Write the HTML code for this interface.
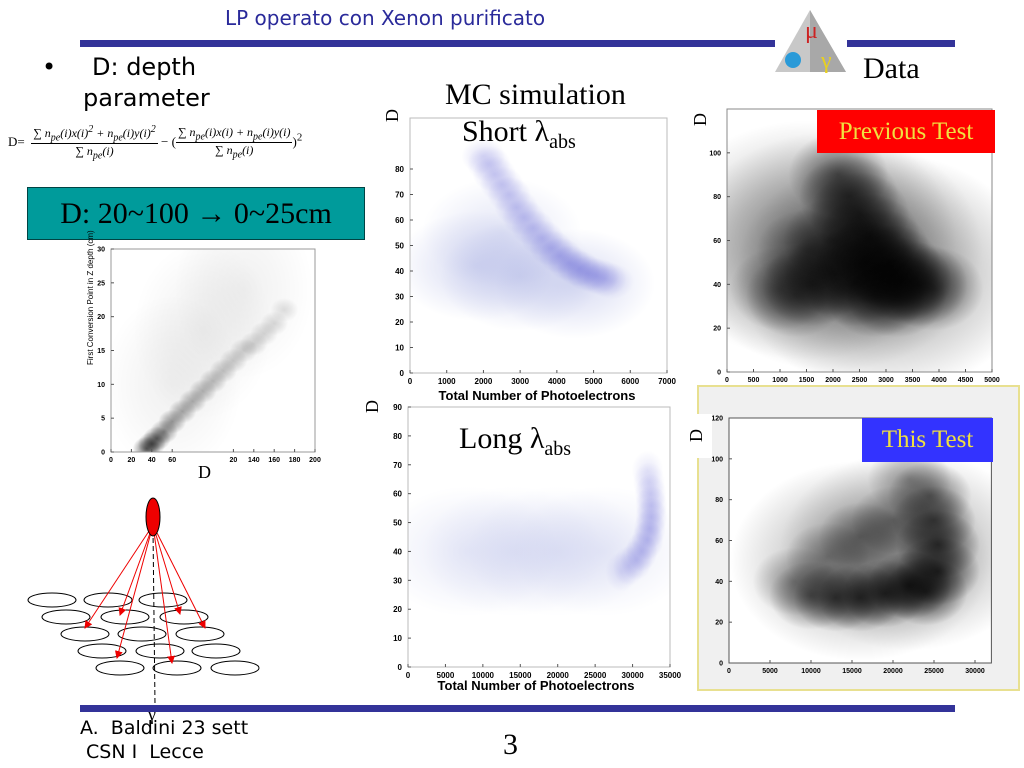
<!DOCTYPE html>
<html><head><meta charset="utf-8">
<style>
body{margin:0;width:1024px;height:768px;overflow:hidden;background:#fff;font-family:"Liberation Sans",sans-serif;position:relative}
.abs{position:absolute}
.serif{font-family:"Liberation Serif",serif}
.comic{font-family:"DejaVu Sans","Liberation Sans",sans-serif}
.frac{display:inline-block;vertical-align:middle;text-align:center;font-family:"Liberation Serif",serif;font-style:italic;font-size:12px}
.frac span{display:block;padding:0 2px}
.frac .num{border-bottom:1px solid #000}
</style></head><body>
<div class="abs comic" style="left:225px;top:6px;font-size:20px;color:#2a2a9a;">LP operato con Xenon purificato</div>
<div class="abs" style="left:80px;top:40px;width:695px;height:7px;background:#333399"></div>
<div class="abs" style="left:847px;top:40px;width:108px;height:7px;background:#333399"></div>
<svg class="abs" style="left:773px;top:8px" width="75" height="66">
<polygon points="37,2 2,64 73,64" fill="#c8c8c8"/><polygon points="37,2 37,64 73,64" fill="#a8a8a8"/>
<text x="32" y="30" font-size="24" fill="#cc2222" font-family="Liberation Serif">μ</text>
<circle cx="20" cy="52" r="8" fill="#2a9ad8"/><text x="48" y="60" font-size="24" fill="#e8d020" font-family="Liberation Serif">γ</text></svg>
<div class="abs serif" style="left:863px;top:52px;font-size:30px">Data</div>
<div class="abs comic" style="left:42px;top:52px;font-size:24px;line-height:31px"><span style="position:absolute;left:0">•</span><span style="position:absolute;left:50px;white-space:nowrap">D: depth</span><br><span style="position:absolute;left:41px;top:31px;white-space:nowrap">parameter</span></div>
<div class="abs" style="left:8px;top:124px;white-space:nowrap;font-family:'Liberation Serif',serif;font-size:13px">D= &nbsp;<span class="frac"><span class="num">∑ n<sub>pe</sub>(i)x(i)<sup>2</sup> + n<sub>pe</sub>(i)y(i)<sup>2</sup></span><span>∑ n<sub>pe</sub>(i)</span></span> − (<span class="frac"><span class="num">∑ n<sub>pe</sub>(i)x(i) + n<sub>pe</sub>(i)y(i)</span><span>∑ n<sub>pe</sub>(i)</span></span>)<sup>2</sup></div>
<div class="abs serif" style="left:27px;top:187px;width:336px;height:51px;background:#009b9b;border:1px solid #044;font-size:30px;line-height:51px;text-align:center;white-space:nowrap">D: 20~100 → 0~25cm</div>
<div class="abs serif" style="left:445px;top:78px;font-size:30px">MC simulation</div>
<div class="abs serif" style="left:462px;top:115px;font-size:30px">Short λ<sub style="font-size:20px">abs</sub></div>
<div class="abs serif" style="left:459px;top:422px;font-size:30px">Long λ<sub style="font-size:20px">abs</sub></div>
<div class="abs" style="left:697px;top:385px;width:323px;height:306px;background:#f0f0f0;border:2px solid #e8e090;box-sizing:border-box"></div>
<svg id="charts" class="abs" style="left:0;top:0" width="1024" height="768"></svg>
<div class="abs serif" style="left:817px;top:110px;width:178px;height:43px;background:#ff0000;color:#f0e040;font-size:25px;line-height:43px;text-align:center">Previous Test</div>
<div class="abs serif" style="left:862px;top:418px;width:131px;height:44px;background:#3333ff;color:#f0e040;font-size:25px;line-height:44px;text-align:center">This Test</div>
<div class="abs" style="left:80px;top:705px;width:875px;height:7px;background:#333399"></div>
<div class="abs comic" style="left:80px;top:716px;font-size:19px;line-height:24px;white-space:nowrap">A.&nbsp; Baldini 23 sett<br>&nbsp;CSN I&nbsp; Lecce</div>
<div class="abs serif" style="left:503px;top:728px;font-size:30px">3</div>
<script>
const NS="http://www.w3.org/2000/svg";
const svg=document.getElementById('charts');
function el(t,a,p){const e=document.createElementNS(NS,t);for(const k in a)e.setAttribute(k,a[k]);(p||svg).appendChild(e);return e;}
const defs=el('defs',{});
// ---- data arrays ----
const leftTicksX=[0,20,40,60,120,140,160,180,200];
const leftTickLabelsX=["0","20","40","60","20","140","160","180","200"];
const leftTicksY=[0,5,10,15,20,25,30];
const leftBandD=[35,40,45,52,60,70,80,90,100,110,120,130,140,150,160,170];
const leftBandZ=[0.5,1.2,2,3,4.5,6,7.5,9,10.5,12,13.5,15,16,17.5,19,21];
const leftBandW=[0.95,0.9,0.85,0.75,0.7,0.6,0.55,0.5,0.45,0.4,0.35,0.32,0.3,0.27,0.25,0.2];
const shortTicksX=[0,1000,2000,3000,4000,5000,6000,7000];
const shortTicksY=[0,10,20,30,40,50,60,70,80,90];
const shortBandX=[2000,2150,2300,2500,2700,2900,3100,3350,3600,3850,4100,4350,4600,4850,5100,5300,5500];
const shortBandY=[85,82,78,74,70,65,61,57,53,49,46,43,41,39,38,37,36];
const shortBandW=[0.45,0.5,0.55,0.55,0.6,0.6,0.6,0.62,0.65,0.68,0.7,0.75,0.75,0.7,0.6,0.5,0.4];
const shortHaloX=[1800,3000,4500,2500];const shortHaloY=[42,38,35,55];
const longTicksX=[0,5000,10000,15000,20000,25000,30000,35000];
const longTicksY=[0,10,20,30,40,50,60,70,80,90];
const longBandX=[32000,32200,32400,32500,32500,32300,32000,31200,30500,29500,28500];
const longBandY=[68,64,60,56,52,48,44,40,37,35,33];
const longBandW=[0.35,0.45,0.55,0.65,0.7,0.75,0.8,0.75,0.65,0.5,0.4];
const longHaloX=[8000,14000,20000,26000];const longHaloY=[40,40,40,40];
const prevTicksX=[0,500,1000,1500,2000,2500,3000,3500,4000,4500,5000];
const prevTicksY=[0,20,40,60,80,100];
const prevBlobX=[2100,2300,2500,2700,2900,3100,3300,3600,3900,1000,1300,1600,2000,2400,2800,1500,2000,2600,3200];
const prevBlobY=[90,80,72,62,55,48,42,40,38,38,35,40,45,40,35,55,60,50,35];
const prevBlobW=[0.8,0.85,0.9,0.95,1,1,1,0.95,0.8,0.6,0.7,0.75,0.8,0.9,0.9,0.6,0.7,0.9,0.9];
const thisTicksX=[0,5000,10000,15000,20000,25000,30000];
const thisTicksY=[0,20,40,60,80,100,120];
const thisBlobX=[22000,24000,25500,25500,25000,24500,19000,16000,13000,10000,8000,12000,16000,20000,22000];
const thisBlobY=[38,35,45,58,70,82,34,32,32,33,40,52,62,70,90];
const thisBlobW=[1,1,1,0.95,0.85,0.7,0.95,0.9,0.85,0.7,0.5,0.5,0.55,0.55,0.5];

function grad(id,color){const g=el('radialGradient',{id:id},defs);
el('stop',{offset:'0','stop-color':color,'stop-opacity':'1'},g);
el('stop',{offset:'0.5','stop-color':color,'stop-opacity':'0.55'},g);
el('stop',{offset:'1','stop-color':color,'stop-opacity':'0'},g);}
grad('gk','#000');grad('gb','#5050d0');grad('gbl','#a0a8e0');
function clip(id,x,y,w,h){const c=el('clipPath',{id:id},defs);el('rect',{x:x,y:y,width:w,height:h},c);}
function axes(name,fx,fy,x0,x1,y0,y1,tx,txl,ty,fs,ticksize,stroke){
 const g=el('g',{});
 el('rect',{x:fx(x0),y:fy(y1),width:fx(x1)-fx(x0),height:fy(y0)-fy(y1),fill:'none',stroke:stroke||'#bbb','stroke-width':1},g);
 tx.forEach((v,i)=>{const x=fx(v);el('line',{x1:x,x2:x,y1:fy(y0),y2:fy(y0)-ticksize,stroke:'#555'},g);
  const t=el('text',{x:x,y:fy(y0)+fs+3,'font-size':fs,'text-anchor':'middle','font-weight':'bold','font-family':'Liberation Sans'},g);t.textContent=txl?txl[i]:v;});
 ty.forEach(v=>{const y=fy(v);el('line',{x1:fx(x0),x2:fx(x0)+ticksize,y1:y,y2:y,stroke:'#555'},g);
  const t=el('text',{x:fx(x0)-6,y:y+fs/2-1,'font-size':fs,'text-anchor':'end','font-weight':'bold','font-family':'Liberation Sans'},g);t.textContent=v;});
 return g;}
function blobs(name,fx,fy,xs,ys,ws,rx,ry,gid,op,cid){
 const g=el('g',{'clip-path':'url(#'+cid+')'});
 
 xs.forEach((v,i)=>{const e=el('ellipse',{cx:fx(v),cy:fy(ys[i]),rx:rx,ry:ry,fill:'url(#'+gid+')',opacity:ws[i]*op},g);
 
 });}
function lin(d0,d1,p0,p1){return v=>p0+(v-d0)/(d1-d0)*(p1-p0);}
function ylab(x,y,txt,name){const t=el('text',{x:x,y:y,'font-size':18,'font-family':'Liberation Serif',transform:`rotate(-90 ${x} ${y})`});t.textContent=txt;
 }
function xlab(x,y,txt,name){const t=el('text',{x:x,y:y,'font-size':13,'font-weight':'bold','text-anchor':'middle','font-family':'Liberation Sans'});t.textContent=txt;
 }
clip('cl',111,249,204,203);clip('cs',410,118,257,255);clip('clg',408,407,262,260);clip('cp',727,109,265,263);clip('ct',729,418,263,245);
// left plot
{const fx=lin(0,200,111,315),fy=lin(0,30,452,249);
 blobs('left-scatter-halo',fx,fy,[90,130,60],[18,24,10],[1,1,1],70,90,'gk',0.06,'cl');
 blobs('left-scatter-band',fx,fy,leftBandD,leftBandZ,leftBandW,14,12,'gk',0.6,'cl');
 axes('left-plot',fx,fy,0,200,0,30,leftTicksX,leftTickLabelsX,leftTicksY,7,3,'#999');
 const t=el('text',{x:93,y:365,'font-size':8,'font-family':'Liberation Sans',transform:'rotate(-90 93 365)'});t.textContent='First Conversion Point in Z depth (cm)';
 
 const d=el('text',{x:198,y:478,'font-size':18,'font-family':'Liberation Serif'});d.textContent='D';
 }
// MC short
{const fx=lin(0,7000,410,667),fy=lin(0,100,373,118);
 blobs('short-halo',fx,fy,shortHaloX,shortHaloY,[1,1,1,0.7],80,55,'gbl',0.4,'cs');
 blobs('short-band',fx,fy,shortBandX,shortBandY,shortBandW,22,18,'gb',0.4,'cs');
 axes('short-plot',fx,fy,0,7000,0,100,shortTicksX,null,shortTicksY.slice(0,9),8,3);
 xlab(537,400,'Total Number of Photoelectrons','short-x-axis-title');ylab(398,122,'D','short-y-axis-title');}
// MC long
{const fx=lin(0,35000,408,670),fy=lin(0,90,667,407);
 blobs('long-halo',fx,fy,longHaloX,longHaloY,[1,1,1,1],90,65,'gbl',0.22,'clg');
 blobs('long-band',fx,fy,longBandX,longBandY,longBandW,16,20,'gb',0.35,'clg');
 axes('long-plot',fx,fy,0,35000,0,90,longTicksX,null,longTicksY,8,3);
 xlab(536,690,'Total Number of Photoelectrons','long-x-axis-title');ylab(378,413,'D','long-y-axis-title');}
// previous test
{const fx=lin(0,5000,727,992),fy=lin(0,120,372,109);
 blobs('prev-halo',fx,fy,[2000,3000,1500],[55,45,60],[1,1,0.8],150,120,'gk',0.4,'cp');
 blobs('prev-core',fx,fy,prevBlobX,prevBlobY,prevBlobW,50,42,'gk',0.65,'cp');
 axes('prev-plot',fx,fy,0,5000,0,120,prevTicksX,null,prevTicksY,7,3,'#888');
 ylab(706,126,'D','prev-y-axis-title');}
// this test
{const fx=lin(0,30000,729,975),fy=lin(0,120,663,418);
 el('rect',{x:729,y:418,width:263,height:245,fill:'#fff'});
 blobs('this-halo',fx,fy,[16000,22000],[50,55],[1,1],130,100,'gk',0.35,'ct');
 blobs('this-core',fx,fy,thisBlobX,thisBlobY,thisBlobW,42,34,'gk',0.7,'ct');
 axes('this-plot',fx,fy,0,32000,0,120,thisTicksX,null,thisTicksY,7,3,'#555');
 el('rect',{x:686,y:414,width:26,height:44,fill:'#fff'});
 ylab(702,442,'D','this-y-axis-title');}
// diagram
{const g=el('g',{});
 const mk=el('marker',{id:'ah',markerWidth:8,markerHeight:8,refX:7,refY:4,orient:'auto'},defs);el('path',{d:'M0,0 L8,4 L0,8z',fill:'#e00'},mk);
 [[52,108,163],[66,125,184],[85,142,200],[102,160,216],[120,177,235]].forEach((r,i)=>r.forEach(x=>el('ellipse',{cx:x,cy:600+i*17,rx:24,ry:7,fill:'none',stroke:'#000'},g)));
 el('line',{x1:153,y1:530,x2:155,y2:705,stroke:'#000','stroke-dasharray':'5,3'},g);
 [[85,628],[120,615],[117,658],[172,663],[180,614],[205,628]].forEach(p=>el('line',{x1:153,y1:525,x2:p[0],y2:p[1],stroke:'#e00','marker-end':'url(#ah)'},g));
 el('ellipse',{cx:153,cy:517,rx:7,ry:19,fill:'#e00',stroke:'#000'},g);
 const t=el('text',{x:148,y:720,'font-size':18,'font-family':'Liberation Serif'},g);t.textContent='γ';}
</script>
</body></html>
